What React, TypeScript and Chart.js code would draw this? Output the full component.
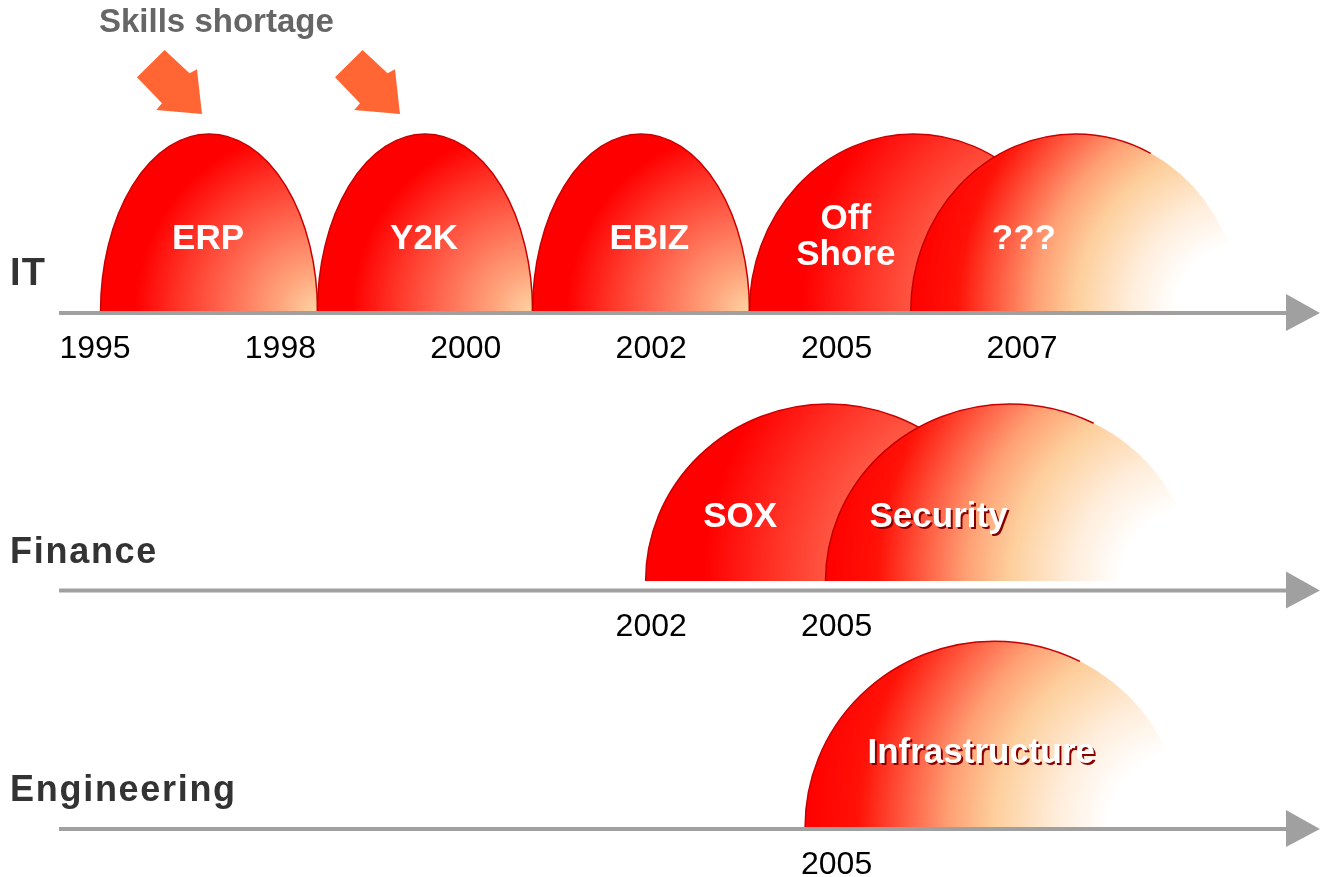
import React, { useEffect, useRef } from "react";
import { Chart, registerables } from "chart.js";

Chart.register(...registerables);

// ---------------- data ----------------
const laneNames = ["IT", "Finance", "Engineering"];
const itYears = ["1995", "1998", "2000", "2002", "2005", "2007"];
const itYearSlots = [0, 1, 2, 3, 4, 5];
const financeYears = ["2002", "2005"];
const financeYearSlots = [3, 4];
const engineeringYears = ["2005"];
const engineeringYearSlots = [4];

const waveNames = ["ERP", "Y2K", "EBIZ", "Off\nShore", "???", "SOX", "Security", "Infrastructure"];
const waveLane = [0, 0, 0, 0, 0, 1, 1, 2];
const waveStart = [0.03, 1.2, 2.36, 3.53, 4.4, 2.97, 3.94, 3.83];
const waveEnd = [1.2, 2.36, 3.53, 5.3, 6.18, 4.94, 5.93, 5.87];
const waveHeight = [1, 1, 1, 1, 1, 1, 1, 1.05];
const waveEmerging = [false, false, false, false, true, false, true, true];

const shortageTitle = "Skills shortage";
const shortageSlots = [0.577, 1.645];

// ---------------- layout ----------------
const W = 1321;
const H = 877;
const X_MIN = -0.5124;
const X_MAX = 6.6127;
const Y_MIN = 0;
const Y_MAX = 4.9548;
const laneBase = [3.1977, 1.6723, 0.2825];
const laneAxis = [3.1864, 1.6186, 0.2712];
const axisStart = -0.194;
const axisHeadBase = 6.424;
const axisTip = 6.607;
const waveLabelX = [0.61, 1.775, 2.99, 4.05, 5.01, 3.48, 4.55, 4.78];
const waveLabelLift = [0.35, 0.35, 0.35, 0.463, 0.35, 0.305, 0.305, 0.36];
const waveLabelLineGap = 0.203;
const waveShadow = [false, false, false, false, false, false, true, true];
const shortageArrowY = 4.3107;
const titleX = 0.0216;
const titleY = 4.774;
const laneLabelX = -0.458;

const FONT = '"Liberation Sans", Arial, Helvetica, sans-serif';

const laneYears = [itYears, financeYears, engineeringYears];
const laneYearSlots = [itYearSlots, financeYearSlots, engineeringYearSlots];

const timelinePlugin = {
  id: "timeline",
  afterDraw(chart: any) {
    const ctx: CanvasRenderingContext2D = chart.ctx;
    const xs = chart.scales.x;
    const ys = chart.scales.y;
    const X = (v: number) => xs.getPixelForValue(v);
    const Y = (v: number) => ys.getPixelForValue(v);
    ctx.save();

    // waves (domes)
    for (let i = 0; i < waveNames.length; i++) {
      const x0 = X(waveStart[i]);
      const x1 = X(waveEnd[i]);
      const base = Y(laneBase[waveLane[i]]);
      const top = Y(laneBase[waveLane[i]] + waveHeight[i]);
      const cx = (x0 + x1) / 2;
      const rx = (x1 - x0) / 2;
      const ry = base - top;
      const g = ctx.createRadialGradient(x1, base, 0, x1, base, 2 * rx);
      if (waveEmerging[i]) {
        g.addColorStop(0, "#ffffff");
        g.addColorStop(0.2, "#ffffff");
        g.addColorStop(0.33, "#ffeedd");
        g.addColorStop(0.5, "#fdcf9c");
        g.addColorStop(0.62, "#ffa074");
        g.addColorStop(0.74, "#ff5a40");
        g.addColorStop(0.86, "#ff1208");
        g.addColorStop(1, "#ff0000");
      } else {
        g.addColorStop(0, "#ffd4a2");
        g.addColorStop(0.18, "#ffa47c");
        g.addColorStop(0.42, "#ff6a52");
        g.addColorStop(0.62, "#ff3a2c");
        g.addColorStop(0.84, "#ff0000");
        g.addColorStop(1, "#ff0000");
      }
      ctx.beginPath();
      ctx.ellipse(cx, base, rx, ry, 0, Math.PI, 2 * Math.PI);
      ctx.closePath();
      ctx.fillStyle = g;
      ctx.fill();
      ctx.beginPath();
      ctx.ellipse(cx, base, rx, ry, 0, Math.PI, waveEmerging[i] ? 1.65 * Math.PI : 2 * Math.PI);
      ctx.strokeStyle = "#c80000";
      ctx.lineWidth = 1.5;
      ctx.stroke();
    }

    // axis lines with arrowheads
    for (let l = 0; l < laneNames.length; l++) {
      const y = Y(laneAxis[l]);
      ctx.beginPath();
      ctx.moveTo(X(axisStart), y);
      ctx.lineTo(X(axisHeadBase) + 1, y);
      ctx.strokeStyle = "#a0a0a0";
      ctx.lineWidth = 4;
      ctx.stroke();
      ctx.beginPath();
      ctx.moveTo(X(axisHeadBase), y - 19);
      ctx.lineTo(X(axisTip), y);
      ctx.lineTo(X(axisHeadBase), y + 18);
      ctx.closePath();
      ctx.fillStyle = "#a0a0a0";
      ctx.fill();

      // year labels
      ctx.fillStyle = "#000000";
      ctx.font = `32px ${FONT}`;
      ctx.textAlign = "center";
      ctx.textBaseline = "alphabetic";
      const yrs = laneYears[l];
      const slots = laneYearSlots[l];
      for (let k = 0; k < yrs.length; k++) {
        ctx.fillText(yrs[k], X(slots[k]), y + 45);
      }

      // lane label
      ctx.fillStyle = "#333333";
      ctx.font = `bold ${l === 0 ? 38 : 36}px ${FONT}`;
      ctx.textAlign = "left";
      (ctx as any).letterSpacing = l === 0 ? "1px" : "1.7px";
      ctx.fillText(laneNames[l], X(laneLabelX), y - 28);
      (ctx as any).letterSpacing = "0px";
    }

    // wave labels
    ctx.font = `bold 35px ${FONT}`;
    ctx.textAlign = "center";
    ctx.textBaseline = "alphabetic";
    for (let i = 0; i < waveNames.length; i++) {
      const lines = waveNames[i].split("\n");
      const lx = X(waveLabelX[i]);
      for (let j = 0; j < lines.length; j++) {
        const ly = Y(laneBase[waveLane[i]] + waveLabelLift[i] - j * waveLabelLineGap);
        if (waveShadow[i]) {
          ctx.fillStyle = "#8a0000";
          ctx.fillText(lines[j], lx + 2, ly + 2);
        }
        ctx.fillStyle = "#ffffff";
        ctx.fillText(lines[j], lx, ly);
      }
    }

    // skills shortage title
    ctx.fillStyle = "#666666";
    ctx.font = `bold 33px ${FONT}`;
    ctx.textAlign = "left";
    ctx.fillText(shortageTitle, X(titleX), Y(titleY));

    // shortage arrows
    const shape = [
      [-65, -36.7],
      [-37.4, -64],
      [-12.4, -40.7],
      [-5, -44.7],
      [0, 0],
      [-45.7, -4],
      [-40, -10.7],
    ];
    ctx.fillStyle = "#ff6633";
    for (const s of shortageSlots) {
      const tx = X(s);
      const ty = Y(shortageArrowY);
      ctx.beginPath();
      shape.forEach((p, idx) => {
        if (idx === 0) ctx.moveTo(tx + p[0], ty + p[1]);
        else ctx.lineTo(tx + p[0], ty + p[1]);
      });
      ctx.closePath();
      ctx.fill();
    }

    ctx.restore();
  },
};

export default function App() {
  const ref = useRef<HTMLCanvasElement | null>(null);
  useEffect(() => {
    if (!ref.current) return;
    const chart = new Chart(ref.current, {
      type: "scatter",
      data: { datasets: [] },
      options: {
        responsive: false,
        animation: false,
        events: [],
        layout: { padding: 0 },
        plugins: { legend: { display: false }, tooltip: { enabled: false }, title: { display: false } },
        scales: {
          x: { type: "linear", min: X_MIN, max: X_MAX, display: false },
          y: { type: "linear", min: Y_MIN, max: Y_MAX, display: false },
        },
      },
      plugins: [timelinePlugin],
    } as any);
    return () => chart.destroy();
  }, []);
  return (
    <div style={{ position: "fixed", left: 0, top: 0, width: W, height: H, background: "#ffffff" }}>
      <canvas ref={ref} width={W} height={H} style={{ display: "block", width: W, height: H }} />
    </div>
  );
}
